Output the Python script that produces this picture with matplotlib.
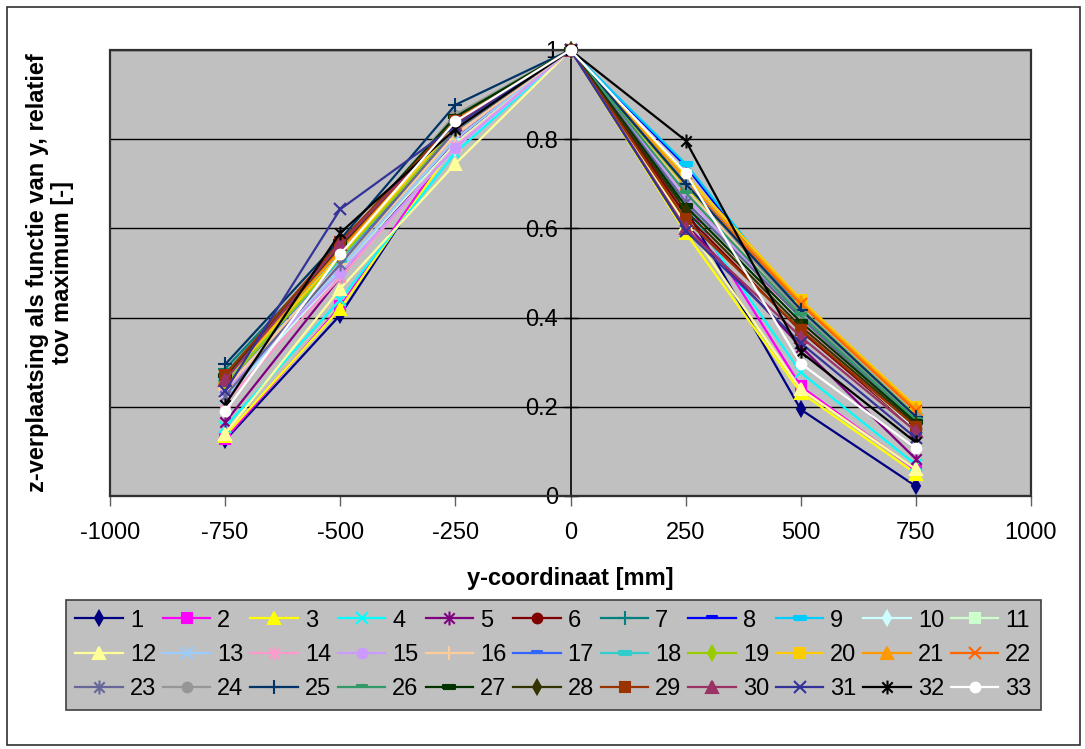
import matplotlib
matplotlib.use('Agg')
import matplotlib.pyplot as plt
from matplotlib.path import Path
from matplotlib.patches import Rectangle
from matplotlib.ticker import FuncFormatter

plt.rcParams['font.family'] = ['Liberation Sans', 'DejaVu Sans']
plt.rcParams['axes.unicode_minus'] = False

# x-posities (y-coordinaat in mm)
y_coord = [-750, -500, -250, 0, 250, 500, 750]

# z-verplaatsing relatief t.o.v. maximum, per reeks 1..33
s1 = [0.125, 0.406, 0.80, 1, 0.645, 0.194, 0.022]
s2 = [0.128, 0.425, 0.80, 1, 0.66, 0.246, 0.058]
s3 = [0.135, 0.42, 0.79, 1, 0.59, 0.232, 0.050]
s4 = [0.155, 0.44, 0.77, 1, 0.65, 0.277, 0.070]
s5 = [0.165, 0.49, 0.80, 1, 0.61, 0.335, 0.083]
s6 = [0.265, 0.57, 0.83, 1, 0.63, 0.37, 0.15]
s7 = [0.285, 0.56, 0.85, 1, 0.66, 0.40, 0.17]
s8 = [0.26, 0.55, 0.82, 1, 0.74, 0.41, 0.17]
s9 = [0.255, 0.55, 0.83, 1, 0.745, 0.42, 0.18]
s10 = [0.22, 0.50, 0.78, 1, 0.68, 0.38, 0.15]
s11 = [0.23, 0.51, 0.79, 1, 0.67, 0.39, 0.16]
s12 = [0.14, 0.465, 0.745, 1, 0.61, 0.24, 0.06]
s13 = [0.22, 0.51, 0.80, 1, 0.69, 0.40, 0.16]
s14 = [0.21, 0.49, 0.785, 1, 0.68, 0.385, 0.155]
s15 = [0.235, 0.50, 0.78, 1, 0.67, 0.40, 0.16]
s16 = [0.24, 0.52, 0.81, 1, 0.69, 0.41, 0.17]
s17 = [0.25, 0.53, 0.82, 1, 0.71, 0.42, 0.18]
s18 = [0.255, 0.53, 0.83, 1, 0.70, 0.41, 0.175]
s19 = [0.25, 0.535, 0.82, 1, 0.695, 0.42, 0.18]
s20 = [0.26, 0.54, 0.83, 1, 0.72, 0.44, 0.20]
s21 = [0.265, 0.55, 0.84, 1, 0.71, 0.435, 0.195]
s22 = [0.27, 0.555, 0.845, 1, 0.70, 0.43, 0.19]
s23 = [0.225, 0.52, 0.82, 1, 0.66, 0.40, 0.165]
s24 = [0.27, 0.56, 0.855, 1, 0.70, 0.41, 0.175]
s25 = [0.295, 0.575, 0.877, 1, 0.70, 0.418, 0.178]
s26 = [0.275, 0.56, 0.85, 1, 0.68, 0.405, 0.17]
s27 = [0.27, 0.565, 0.85, 1, 0.65, 0.39, 0.165]
s28 = [0.265, 0.56, 0.84, 1, 0.64, 0.38, 0.16]
s29 = [0.272, 0.57, 0.84, 1, 0.62, 0.373, 0.155]
s30 = [0.26, 0.565, 0.835, 1, 0.60, 0.357, 0.145]
s31 = [0.235, 0.643, 0.83, 1, 0.595, 0.343, 0.13]
s32 = [0.205, 0.59, 0.823, 1, 0.797, 0.323, 0.12]
s33 = [0.19, 0.542, 0.84, 1, 0.725, 0.297, 0.107]

series = [s1, s2, s3, s4, s5, s6, s7, s8, s9, s10, s11, s12, s13, s14, s15, s16,
          s17, s18, s19, s20, s21, s22, s23, s24, s25, s26, s27, s28, s29, s30,
          s31, s32, s33]
labels = [str(i) for i in range(1, 34)]

# Excel standaardkleuren
colors = ['#000080', '#FF00FF', '#FFFF00', '#00FFFF', '#800080', '#800000', '#008080',
          '#0000FF', '#00CCFF', '#CCFFFF', '#CCFFCC', '#FFFF99', '#99CCFF', '#FF99CC',
          '#CC99FF', '#FFCC99', '#3366FF', '#33CCCC', '#99CC00', '#FFCC00', '#FF9900',
          '#FF6600', '#666699', '#969696', '#003366', '#339966', '#003300', '#333300',
          '#993300', '#993366', '#333399', '#000000', '#FFFFFF']

# Excel markers: ruit, vierkant, driehoek, x, ster, cirkel, plus, kort streepje, lang streepje
star = Path([(0, -1), (0, 1), (-0.75, -0.75), (0.75, 0.75), (-0.75, 0.75), (0.75, -0.75)],
            [Path.MOVETO, Path.LINETO, Path.MOVETO, Path.LINETO, Path.MOVETO, Path.LINETO])
short_dash = [(-1, -0.1), (1, -0.1), (1, 0.5), (-1, 0.5), (-1, -0.1)]
long_dash = [(-1, -0.25), (1, -0.25), (1, 0.25), (-1, 0.25), (-1, -0.25)]
marker_cycle = [('d', 7.5), ('s', 7), ('^', 8), ('x', 8), (star, 10), ('o', 7),
                ('+', 10), (short_dash, 7), (long_dash, 9)]

fig = plt.figure(figsize=(10.85, 7.49), dpi=100)
ax = fig.add_axes([110 / 1085, 1 - 496 / 749, 921 / 1085, 446 / 749])
ax.set_facecolor('#C0C0C0')

handles = []
for i, vals in enumerate(series):
    m, ms = marker_cycle[i % 9]
    line, = ax.plot(y_coord, vals, color=colors[i], lw=1.6, marker=m, markersize=ms,
                    markerfacecolor=colors[i], markeredgecolor=colors[i],
                    markeredgewidth=1.5, clip_on=False, zorder=3 + i * 0.01)
    handles.append(line)

ax.set_xlim(-1000, 1000)
ax.set_ylim(0, 1)
ax.set_xticks(range(-1000, 1001, 250))
ax.set_yticks([0, 0.2, 0.4, 0.6, 0.8, 1.0])
ax.yaxis.set_major_formatter(FuncFormatter(lambda v, p: '%g' % v))

# horizontale rasterlijnen
ax.yaxis.grid(True, color='black', lw=1)
ax.set_axisbelow(True)

# y-as op x = 0
ax.spines['left'].set_position(('data', 0))
ax.spines['left'].set_color('black')
ax.spines['left'].set_linewidth(1.2)
ax.spines['left'].set_zorder(2.5)
for s in ['top', 'right']:
    ax.spines[s].set_visible(False)
ax.spines['bottom'].set_linewidth(1.5)
ax.add_patch(Rectangle((0, 0), 1, 1, transform=ax.transAxes, fill=False,
                       edgecolor='#303030', lw=1.6, zorder=2.6, clip_on=False))

ax.tick_params(axis='y', direction='inout', length=10, width=1, labelsize=17, pad=4)
ax.tick_params(axis='x', direction='out', length=7, width=1, color='#606060',
               labelsize=17, pad=12)

fig.text(570 / 1085, 1 - 578 / 749, 'y-coordinaat [mm]', fontsize=17,
         fontweight='bold', ha='center', va='center')
fig.text(50 / 1085, 1 - 273 / 749, 'z-verplaatsing als functie van y, relatief\ntov maximum [-]',
         fontsize=17, fontweight='bold', rotation=90, ha='center', va='center',
         multialignment='center', linespacing=1.15)

# legenda rij voor rij (1-11, 12-22, 23-33)
order = [r * 11 + c for c in range(11) for r in range(3)]
leg = fig.legend([handles[k] for k in order], [labels[k] for k in order],
                 ncol=11, loc='center', mode='expand',
                 bbox_to_anchor=(66 / 1085, 1 - 714 / 749, 975 / 1085, 118 / 749),
                 fontsize=17, frameon=True, fancybox=False, facecolor='#C0C0C0',
                 edgecolor='#404040', framealpha=1, handlelength=2.0,
                 handletextpad=0.3, labelspacing=0.52, borderaxespad=0,
                 columnspacing=0.4, borderpad=0.4)
leg.get_frame().set_linewidth(1.2)

# kader om de hele grafiek
fig.patches.append(Rectangle((7 / 1085, 4 / 749), 1073 / 1085, 738 / 749,
                             transform=fig.transFigure, fill=False,
                             edgecolor='#303030', lw=1.2))

plt.savefig('out.png', dpi=100)
